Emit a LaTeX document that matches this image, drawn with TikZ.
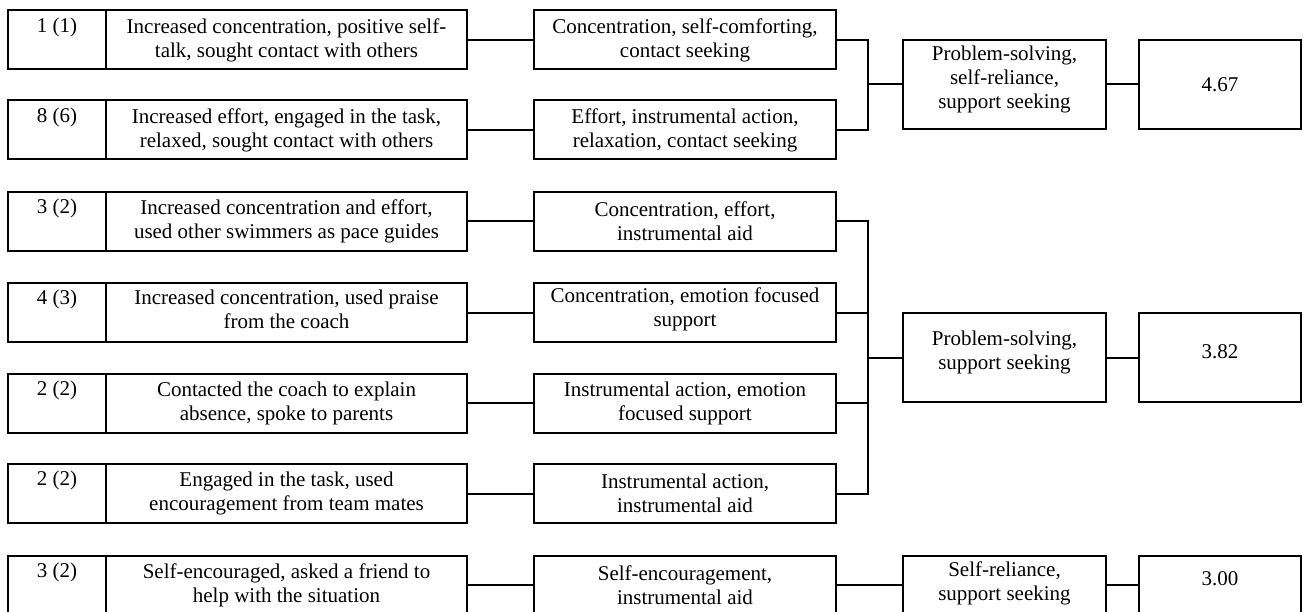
\documentclass[tikz,border=0pt]{standalone}
\usepackage{fontspec}
\setmainfont{Liberation Serif}
\begin{document}
\begin{tikzpicture}[x=1pt,y=-1pt,
  box/.style={draw, line width=2pt, rectangle, inner sep=0pt, minimum height=59pt},
  tallbox/.style={box, minimum height=89pt},
  cnt/.style={box, minimum width=98pt},
  desc/.style={box, minimum width=361pt},
  mid/.style={box, minimum width=302pt},
  third/.style={box, minimum width=203pt},
  val/.style={box, minimum width=162pt},
  txt/.style={font=\fontsize{21}{24}\selectfont, align=center, inner sep=0pt},
  wire/.style={line width=2pt}]
\useasboundingbox (0,0) rectangle (1303,612);
\clip (0,0) rectangle (1303,612);

% boxes
\foreach \r/\y in {1/40,2/130,3/221.5,4/312.5,5/403,6/493.5,7/585}{
  \node[cnt]  (c\r) at (57,\y) {};
  \node[desc] (d\r) at (286.5,\y) {};
  \node[mid]  (m\r) at (685,\y) {};
}
\node[third, minimum height=89pt] (p1) at (1004.5,84.5) {};
\node[val,   minimum height=89pt] (v1) at (1220,84.5) {};
\node[third, minimum height=89pt] (p2) at (1004.5,357.5) {};
\node[val,   minimum height=89pt] (v2) at (1220,357.5) {};
\node[third] (p3) at (1004.5,585) {};
\node[val]   (v3) at (1220,585) {};

% counts
\node[txt] (c1t) at ([yshift=13pt]c1.center) {1 (1)};
\node[txt] (c2t) at ([yshift=13pt]c2.center) {8 (6)};
\node[txt] (c3t) at ([yshift=13pt]c3.center) {3 (2)};
\node[txt] (c4t) at ([yshift=13pt]c4.center) {4 (3)};
\node[txt] (c5t) at ([yshift=13pt]c5.center) {2 (2)};
\node[txt] (c6t) at ([yshift=13pt]c6.center) {2 (2)};
\node[txt] (c7t) at ([yshift=13pt]c7.center) {3 (2)};

% descriptions
\node[txt] (d1t) at (d1.center) {Increased concentration, positive self-\\talk, sought contact with others};
\node[txt] (d2t) at (d2.center) {Increased effort, engaged in the task,\\relaxed, sought contact with others};
\node[txt] (d3t) at (d3.center) {Increased concentration and effort,\\used other swimmers as pace guides};
\node[txt] (d4t) at ([yshift=3pt]d4.center) {Increased concentration, used praise\\from the coach};
\node[txt] (d5t) at (d5.center) {Contacted the coach to explain\\absence, spoke to parents};
\node[txt] (d6t) at (d6.center) {Engaged in the task, used\\encouragement from team mates};
\node[txt] (d7t) at (d7.center) {Self-encouraged, asked a friend to\\help with the situation};

% middle
\node[txt] (m1t) at (m1.center) {Concentration, self-comforting,\\contact seeking};
\node[txt] (m2t) at (m2.center) {Effort, instrumental action,\\relaxation, contact seeking};
\node[txt] (m3t) at (m3.center) {Concentration, effort,\\instrumental aid};
\node[txt] (m4t) at ([yshift=3pt]m4.center) {Concentration, emotion focused\\support};
\node[txt] (m5t) at (m5.center) {Instrumental action, emotion\\focused support};
\node[txt] (m6t) at (m6.center) {Instrumental action,\\instrumental aid};
\node[txt] (m7t) at (m7.center) {Self-encouragement,\\instrumental aid};

% third column
\node[txt] (p1t) at ([yshift=5pt]p1.center) {Problem-solving,\\self-reliance,\\support seeking};
\node[txt] (p2t) at ([yshift=5pt]p2.center) {Problem-solving,\\support seeking};
\node[txt] (p3t) at ([yshift=2pt]p3.center) {Self-reliance,\\support seeking};

% values
\node[txt] (v1t) at (v1.center) {4.67};
\node[txt] (v2t) at ([yshift=6pt]v2.center) {3.82};
\node[txt] (v3t) at ([yshift=6pt]v3.center) {3.00};

% connectors
\foreach \r in {1,...,7}{ \draw[wire] (d\r.east) -- (m\r.west); }
\coordinate (j1) at (868,84.5);
\draw[wire] (m1.east) -| (j1) |- (m2.east);
\draw[wire] (j1) -- (p1.west);
\draw[wire] (p1.east) -- (v1.west);

\coordinate (j2) at (868,357.5);
\draw[wire] (m3.east) -| (j2) |- (m6.east);
\draw[wire] (m4.east) -- (m4.east -| j2);
\draw[wire] (m5.east) -- (m5.east -| j2);
\draw[wire] (j2) -- (p2.west);
\draw[wire] (p2.east) -- (v2.west);

\draw[wire] (m7.east) -- (p3.west);
\draw[wire] (p3.east) -- (v3.west);
\end{tikzpicture}
\end{document}
